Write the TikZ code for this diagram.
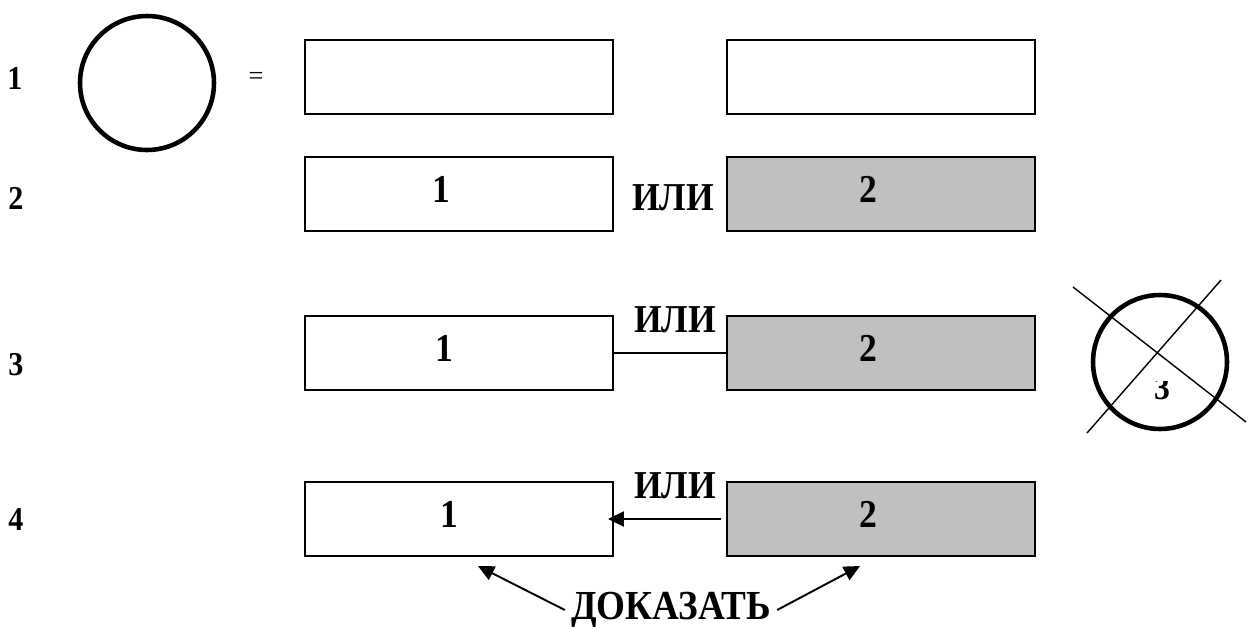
\documentclass[tikz,border=0pt]{standalone}
\usepackage{fontspec}
\setmainfont{Liberation Serif}
\newfontfamily\narrowserif{Liberation Serif}[FakeStretch=0.9]
\usetikzlibrary{arrows.meta, positioning}
\definecolor{boxgray}{RGB}{192,192,192}

\begin{document}
\begin{tikzpicture}[x=0.02cm, y=-0.02cm,
    every node/.style={font=\narrowserif\bfseries\fontsize{22.5}{26}\selectfont},
    blk/.style={draw, line width=1.1pt, minimum width=6.16cm, minimum height=1.48cm, text depth=0.2cm},
    alt/.style={blk, fill=boxgray},
    num/.style={font=\narrowserif\bfseries\fontsize{19}{22}\selectfont},
    ring/.style={circle, draw, line width=2.6pt, minimum size=2.68cm},
    arr/.style={line width=1.1pt, -{Triangle[length=0.32cm, width=0.3cm]}}]
    \useasboundingbox (0,0) rectangle (1254,626);
    \node[num] (r1) at (15,78) {1};
    \node[num] (r2) at (16,198) {2};
    \node[num] (r3) at (16,365) {3};
    \node[num] (r4) at (16,520) {4};
    \node[ring] (c1) at (147,83) {};
    \node[font=\fontsize{15}{18}\selectfont] (eq) at (256,78) {=};
    \node[blk] (b11) at (459,77) {};
    \node[blk] (b12) at (881,77) {};
    \node[blk] (b21) at (459,194) {1\hspace*{0.7cm}};
    \node[alt] (b22) at (881,194) {2\hspace*{0.5cm}};
    \node (or2) at (673,198) {ИЛИ};
    \node[blk] (b31) at (459,353) {1\hspace*{0.6cm}};
    \node[alt] (b32) at (881,353) {2\hspace*{0.5cm}};
    \node (or3) at (675,320) {ИЛИ};
    \draw[line width=1.1pt] (b31) -- (b32);
    \node[ring] (c3) at (1160,362) {};
    \draw[line width=0.8pt] (1073,287) -- (1246,422) (1221,280) -- (1087,433);
    \begin{scope}
        \clip (1130,381) rectangle (1195,412);
        \node[font=\narrowserif\bfseries\fontsize{20}{24}\selectfont] (n3) at (1162,388) {3};
    \end{scope}
    \node[blk] (b41) at (459,519) {1\hspace*{0.4cm}};
    \node[alt] (b42) at (881,519) {2\hspace*{0.5cm}};
    \node (or4) at (675,486) {ИЛИ};
    \draw[arr] ([xshift=-0.1cm]b42.west) -- ([xshift=-0.12cm]b41.east);
    \node[font=\narrowserif\bfseries\fontsize{23.5}{27}\selectfont] (prove) at (671,610) {ДОКАЗАТЬ};
    \coordinate (p1) at (478,566);
    \coordinate (p2) at (860,566);
    \draw[arr] (prove.west) -- (p1);
    \draw[arr] (prove.east) -- (p2);
\end{tikzpicture}
\end{document}
